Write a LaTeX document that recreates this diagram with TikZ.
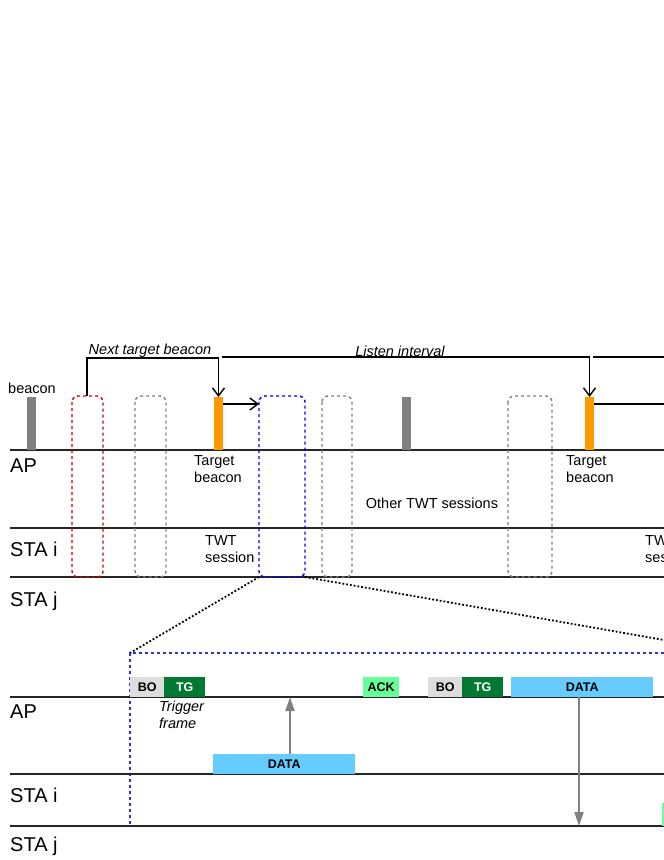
\documentclass[tikz,border=0pt]{standalone}
\usepackage{fontspec}
\setmainfont{Liberation Sans}
\usetikzlibrary{arrows.meta}
\definecolor{orng}{HTML}{FF9900}
\definecolor{dgreen}{HTML}{007A33}
\definecolor{lgreen}{HTML}{66FF99}
\definecolor{lblue}{HTML}{66CCFF}
\definecolor{lgray}{HTML}{DDDDDD}
\tikzset{
 tl/.style={line width=1.8pt,black!85},
 big/.style={anchor=west,font=\fontsize{20}{22}\selectfont,inner sep=0pt},
 lbl/.style={font=\fontsize{14.5}{17}\selectfont,align=left,inner sep=0pt},
 sess/.style={dashed,rounded corners=6pt,line width=1.4pt},
 frm/.style={inner sep=0pt,font=\bfseries\fontsize{12.5}{13}\selectfont},
 con/.style={line width=1.4pt},
 gar/.style={gray,line width=2pt,-{Triangle[length=14pt,width=9pt]}}
}
\begin{document}
\begin{tikzpicture}[x=1pt,y=-1pt]
\useasboundingbox (0,0) rectangle (664,860);
\clip (0,0) rectangle (664,860);
% top lines
\foreach \y in {450,528,577}{\draw[tl] (10,\y)--(664,\y);}
\node[big] (ap1) at (10,466) {AP};
\node[big] (si1) at (10,549) {STA i};
\node[big] (sj1) at (10,601) {STA j};
\node[lbl,anchor=west] (bcn) at (8,388) {beacon};
% bars
\fill[gray] (27,397) rectangle (36,450);
\fill[gray] (402,397) rectangle (411,450);
\node[fill=orng,minimum width=9pt,minimum height=53pt,inner sep=0pt,anchor=north] (tb1) at (218.5,397) {};
\node[fill=orng,minimum width=9pt,minimum height=53pt,inner sep=0pt,anchor=north] (tb2) at (589.5,397) {};
% sessions
\draw[sess,red!80!black] (72,396) rectangle (103,577);
\draw[sess,gray] (135,396) rectangle (166,577);
\draw[sess,blue] (259,396) rectangle (305,577);
\coordinate (bl) at (259,577); \coordinate (br) at (305,577);
\draw[sess,gray] (322,396) rectangle (352,577);
\draw[sess,gray] (508,396) rectangle (552,577);
% brackets
\draw[con,-{Straight Barb[length=8pt,width=12pt]}] (87,396)|-(218.5,358)--(tb1.north);
\draw[con,-{Straight Barb[length=8pt,width=12pt]}] (222,357)-|(tb2.north);
\draw[con] (593,357)--(664,357);
\node[lbl,font=\itshape\fontsize{14.5}{17}\selectfont] (ntb) at (150,351) {Next target beacon};
\node[lbl,font=\itshape\fontsize{14.5}{17}\selectfont] (li) at (400,351) {Listen interval};
\draw[con,-{Straight Barb[length=8pt,width=12pt]}] (223,404)--(259,404);
\draw[con] (594,404)--(664,404);
\node[lbl,anchor=north west] (t1) at (194,455) {Target\\beacon};
\node[lbl,anchor=north west] (t2) at (566,455) {Target\\beacon};
\node[lbl] (ots) at (432,503) {Other TWT sessions};
\node[lbl,anchor=north west] (ts) at (205,535) {TWT\\session};
\node[lbl,anchor=north west] (ts2) at (645,535) {TWT\\session};
% zoom lines
\coordinate (zl) at (130,653); \coordinate (zr) at (664,640);
\draw[dotted,line width=1.8pt] (bl)--(zl);
\draw[dotted,line width=1.8pt] (br)--(zr);
\draw[dashed,blue!60!gray,line width=1.2pt] (664,653)--(zl)--(130,826);
% bottom lines
\foreach \y in {697,774,826}{\draw[tl] (10,\y)--(664,\y);}
\node[big] (ap2) at (10,712) {AP};
\node[big] (si2) at (10,795) {STA i};
\node[big] (sj2) at (10,846) {STA j};
% frames
\node[frm,fill=lgray,minimum width=34pt,minimum height=20pt,anchor=south west] (bo1) at (130,697) {BO};
\node[frm,fill=dgreen,text=white,minimum width=41pt,minimum height=20pt,anchor=south west] (tg1) at (164,697) {TG};
\node[frm,fill=lgreen,minimum width=36pt,minimum height=20pt,anchor=south west] (ack) at (363,697) {ACK};
\node[frm,fill=lgray,minimum width=34pt,minimum height=20pt,anchor=south west] (bo2) at (428,697) {BO};
\node[frm,fill=dgreen,text=white,minimum width=41pt,minimum height=20pt,anchor=south west] (tg2) at (462,697) {TG};
\node[frm,fill=lblue,minimum width=142pt,minimum height=20pt,anchor=south west] (d2) at (511,697) {DATA};
\node[frm,fill=lblue,minimum width=142pt,minimum height=20pt,anchor=south west] (d1) at (213,774) {DATA};
\fill[lgreen] (662,803) rectangle (664,826);
\node[lbl,anchor=north west,font=\itshape\fontsize{14.5}{17}\selectfont] (trg) at (159,701) {Trigger\\frame};
\coordinate (a0) at (290,754); \coordinate (a1) at (290,697); \coordinate (a2) at (579,826);
\draw[gar] (a0)--(a1);
\draw[gar] (579,697)--(a2);
\end{tikzpicture}
\end{document}
